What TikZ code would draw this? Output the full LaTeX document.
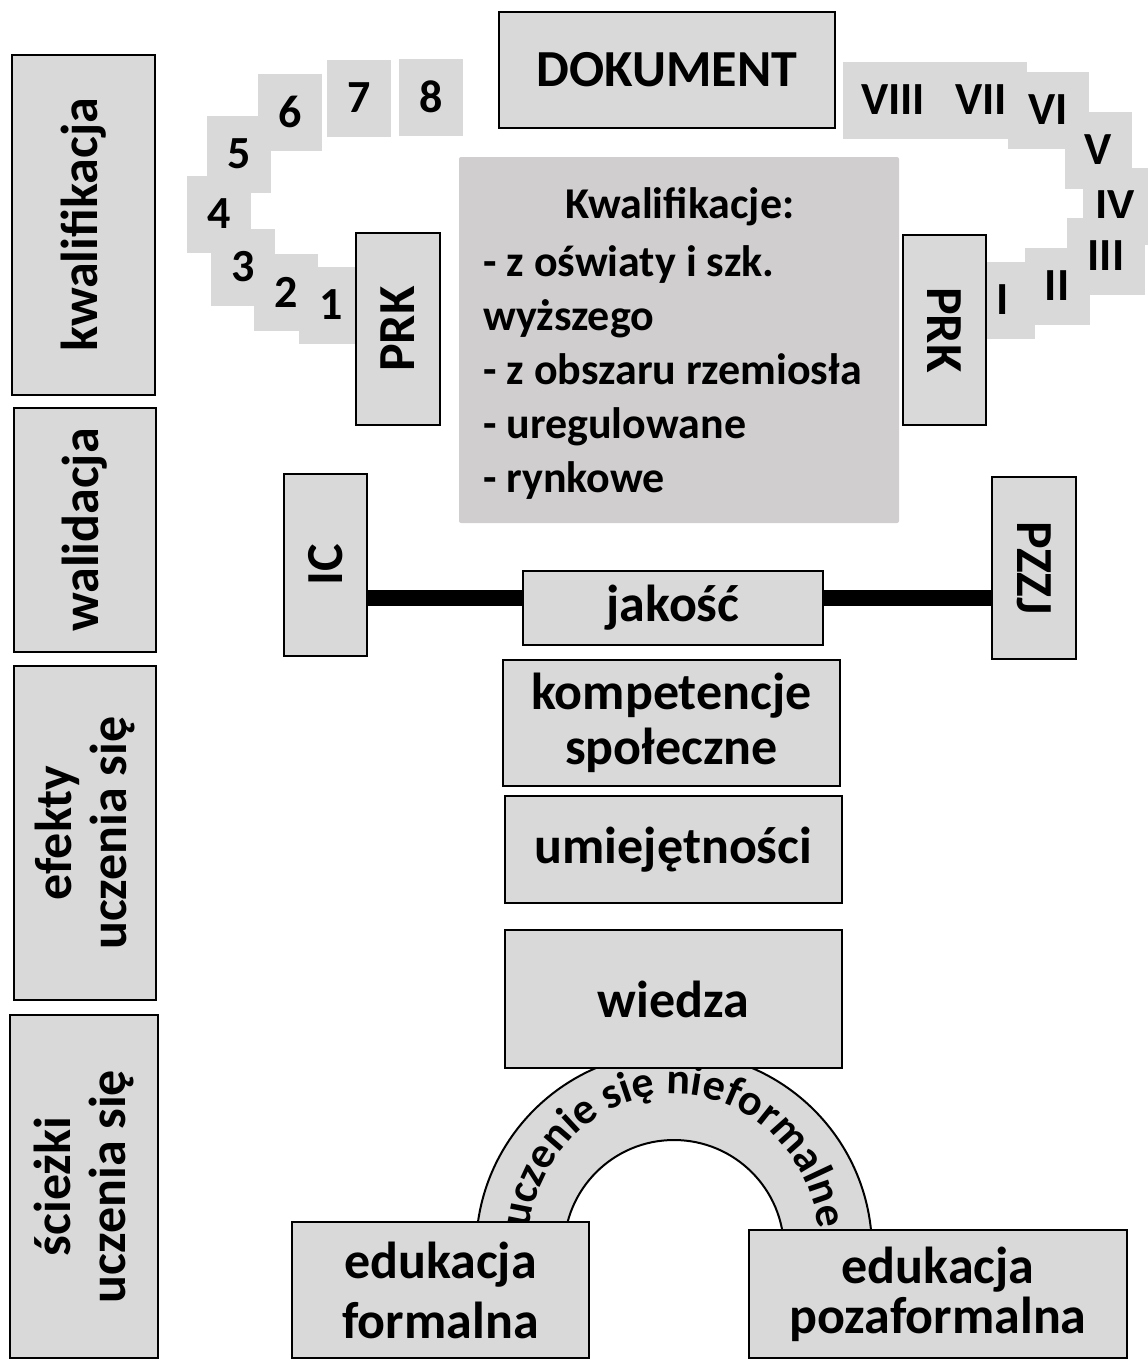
\documentclass[tikz,border=0pt]{standalone}
\usepackage{fontspec}
\setmainfont{Carlito}
\usetikzlibrary{decorations.text}
\definecolor{boxgray}{HTML}{D9D9D9}
\definecolor{midgray}{HTML}{D0CECE}
\tikzset{
	box/.style={draw=black, line width=2pt, fill=boxgray, inner sep=0pt, align=center,
		font=\bfseries\fontsize{52}{55}\selectfont},
	numbox/.style={fill=boxgray, inner sep=0pt, minimum height=77pt,
		font=\bfseries\fontsize{46}{50}\selectfont},
}

\begin{document}
\begin{tikzpicture}[x=1pt,y=-1pt]
	\useasboundingbox (0,0) rectangle (1148,1360);
	\clip (0,0) rectangle (1148,1360);

	% Left column
	\node[box, rotate=90, minimum width=340pt, minimum height=143pt] (kwal) at (83.5,225) {kwalifikacja};
	\node[box, rotate=90, minimum width=244pt, minimum height=142pt] (walid) at (85,530) {walidacja};
	\node[box, rotate=90, minimum width=334pt, minimum height=142pt] (efekty) at (85,833) {efekty\\uczenia się};
	\node[box, rotate=90, minimum width=343pt, minimum height=148pt] (sciezki) at (84,1186.5) {ścieżki\\uczenia się};

	% Document
	\node[box, minimum width=336pt, minimum height=116pt] (dok) at (667,70) {DOKUMENT};

	% PRK levels
	\foreach \n/\x/\y in {8/431/97, 7/359/98, 6/290/112, 5/239/154, 4/219/214, 3/243/267, 2/286/292, 1/331/305}
		\node[numbox, minimum width=64pt] (num\n) at (\x,\y) {\n};
	\foreach \r/\x/\y/\w in {VIII/893/100/100, VII/981/100/92, VI/1048/110/81, V/1098/150/67, IV/1115/206/65, III/1106/256/78, II/1057/286/65, I/1003/300/64}
		\node[numbox, minimum width=\w pt] (rom\r) at (\x,\y) {\r};
	\node[box, rotate=90, minimum width=192pt, minimum height=84pt] (prkl) at (398,329) {PRK};
	\node[box, rotate=-90, minimum width=190pt, minimum height=83pt] (prkr) at (944.5,330) {PRK};

	% Qualifications
	\node[fill=midgray, rounded corners=2pt, minimum width=440pt, minimum height=366pt] (kwbox) at (679,340) {};
	\node[inner sep=0pt, font=\bfseries\fontsize{44}{54}\selectfont] (kwtitle) at (680,207) {Kwalifikacje:};
	\node[inner sep=0pt, anchor=west, align=left, font=\bfseries\fontsize{44}{54}\selectfont] (kwlist) at (483,373)
		{- z oświaty i szk.\\wyższego\\- z obszaru rzemiosła\\- uregulowane\\- rynkowe};

	% Validation
	\node[box, rotate=90, minimum width=182pt, minimum height=83pt] (ic) at (325.5,565) {IC};
	\node[box, rotate=-90, minimum width=182pt, minimum height=84pt] (pzzj) at (1034,568) {PZZJ};
	\node[box, minimum width=300pt, minimum height=74pt] (jakosc) at (673,608) {jakość};
	\coordinate (lnl) at ([yshift=10pt]jakosc.west);
	\coordinate (lnr) at ([yshift=10pt]jakosc.east);
	\draw[line width=16pt] (ic.south |- lnl) -- (lnl);
	\draw[line width=16pt] (lnr) -- (pzzj.south |- lnr);

	% Learning outcomes
	\node[box, minimum width=337pt, minimum height=126pt] (komp) at (671.5,723) {kompetencje\\ społeczne};
	\node[box, minimum width=337pt, minimum height=107pt] (umiej) at (673.5,849.5) {umiejętności};

	% Arch
	\filldraw[fill=boxgray, draw=black, line width=2pt] (476,1250) arc[start angle=180, end angle=360, radius=198]
		-- (784,1250) arc[start angle=0, end angle=-180, radius=110] -- cycle;
	\path[decorate, decoration={text along path, text align=center,
		text={|\bfseries\fontsize{44}{48}\selectfont|uczenie się nieformalne}}]
		(528,1250) arc[start angle=180, end angle=360, x radius=146, y radius=156];

	\node[box, minimum width=337pt, minimum height=138pt] (wiedza) at (673.5,999) {wiedza};

	% Learning paths
	\node[box, minimum width=297pt, minimum height=136pt, font=\bfseries\fontsize{52}{60}\selectfont] (formal) at (440.5,1290) {edukacja\\formalna};
	\node[box, minimum width=378pt, minimum height=128pt, font=\bfseries\fontsize{52}{50}\selectfont] (pozaf) at (938,1294) {edukacja\\pozaformalna};
\end{tikzpicture}
\end{document}
